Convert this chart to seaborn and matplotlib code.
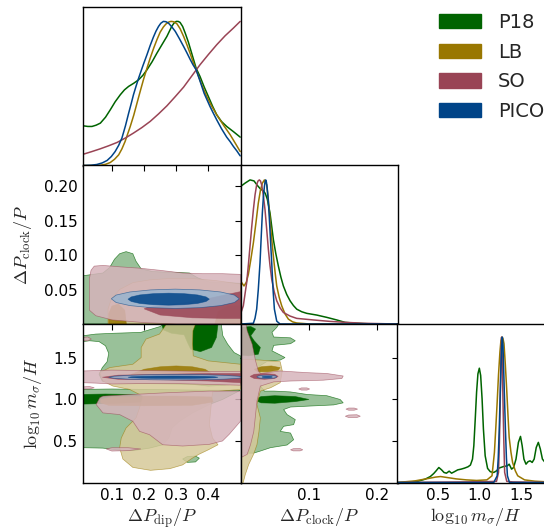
import numpy as np
import matplotlib
matplotlib.use("Agg")
import matplotlib.pyplot as plt
import seaborn as sns
from matplotlib.colors import to_rgb
from matplotlib.patches import Patch

# ---------------- data ----------------
names = ["P18", "LB", "SO", "PICO"]
colors = ["#006400", "#997700", "#994455", "#004488"]

dip_ticks = [0.1, 0.2, 0.3, 0.4]
dip_ticklabels = ["0.1", "0.2", "0.3", "0.4"]
clock_ticks = [0.05, 0.10, 0.15, 0.20]
clock_ticklabels = ["0.05", "0.10", "0.15", "0.20"]
clock_xticks = [0.1, 0.2]
clock_xticklabels = ["0.1", "0.2"]
m_ticks = [0.5, 1.0, 1.5]
m_ticklabels = ["0.5", "1.0", "1.5"]
dip_lim = (0.01, 0.5)
clock_lim = (0.0, 0.23)
m_lim = (0.01, 1.9)

# 1D marginals: Delta P_dip / P
p18_dip_x = [0.012, 0.025, 0.038, 0.051, 0.064, 0.08, 0.095, 0.11, 0.126, 0.139, 0.152, 0.168, 0.183, 0.196, 0.209, 0.225, 0.240, 0.256, 0.271, 0.286, 0.293, 0.300, 0.306, 0.312, 0.320, 0.328, 0.338, 0.348, 0.362, 0.374, 0.387, 0.400, 0.413, 0.426, 0.441, 0.457, 0.478, 0.499]
p18_dip_y = [0.275, 0.271, 0.271, 0.280, 0.294, 0.335, 0.387, 0.442, 0.491, 0.525, 0.549, 0.571, 0.595, 0.625, 0.664, 0.720, 0.780, 0.840, 0.896, 0.965, 0.988, 1.0, 1.0, 0.993, 0.965, 0.919, 0.855, 0.780, 0.675, 0.618, 0.545, 0.479, 0.412, 0.352, 0.305, 0.271, 0.235, 0.197]
lb_dip_x = [0.012, 0.04, 0.064, 0.08, 0.095, 0.108, 0.121, 0.131, 0.141, 0.157, 0.168, 0.178, 0.188, 0.198, 0.209, 0.219, 0.230, 0.240, 0.250, 0.260, 0.268, 0.276, 0.281, 0.286, 0.293, 0.302, 0.312, 0.323, 0.333, 0.343, 0.352, 0.362, 0.378, 0.395, 0.41, 0.426, 0.447, 0.468, 0.485, 0.499]
lb_dip_y = [0.0, 0.0, 0.002, 0.008, 0.021, 0.043, 0.074, 0.115, 0.167, 0.271, 0.35, 0.433, 0.515, 0.595, 0.675, 0.745, 0.815, 0.873, 0.925, 0.961, 0.982, 0.995, 0.999, 1.0, 0.997, 0.984, 0.950, 0.896, 0.840, 0.780, 0.722, 0.664, 0.568, 0.479, 0.413, 0.352, 0.280, 0.213, 0.150, 0.097]
so_dip_x = [0.012, 0.038, 0.064, 0.09, 0.116, 0.142, 0.167, 0.193, 0.219, 0.245, 0.271, 0.297, 0.323, 0.348, 0.374, 0.400, 0.426, 0.452, 0.478, 0.499]
so_dip_y = [0.079, 0.097, 0.116, 0.137, 0.160, 0.191, 0.225, 0.263, 0.306, 0.358, 0.414, 0.478, 0.544, 0.620, 0.699, 0.770, 0.838, 0.900, 0.954, 1.0]
pico_dip_x = [0.012, 0.035, 0.053, 0.07, 0.085, 0.098, 0.110, 0.121, 0.131, 0.142, 0.152, 0.160, 0.167, 0.175, 0.183, 0.196, 0.209, 0.219, 0.229, 0.237, 0.245, 0.252, 0.260, 0.268, 0.276, 0.286, 0.297, 0.310, 0.323, 0.333, 0.343, 0.352, 0.362, 0.375, 0.387, 0.396, 0.405, 0.415, 0.426, 0.441, 0.457, 0.468, 0.478, 0.489, 0.499]
pico_dip_y = [0.0, 0.002, 0.007, 0.018, 0.035, 0.062, 0.097, 0.140, 0.190, 0.275, 0.363, 0.430, 0.491, 0.550, 0.606, 0.690, 0.769, 0.833, 0.891, 0.932, 0.965, 0.987, 1.0, 0.998, 0.988, 0.963, 0.931, 0.880, 0.826, 0.783, 0.738, 0.700, 0.664, 0.580, 0.5, 0.455, 0.410, 0.365, 0.317, 0.255, 0.197, 0.165, 0.132, 0.100, 0.067]

# 1D marginals: Delta P_clock / P
p18_clock_x = [0.0, 0.0065, 0.0139, 0.0197, 0.0246, 0.0295, 0.0334, 0.0363, 0.0392, 0.0431, 0.048, 0.0515, 0.0553, 0.059, 0.0626, 0.0675, 0.0724, 0.0773, 0.0821, 0.0894, 0.0967, 0.1114, 0.126, 0.1406, 0.1528, 0.1699, 0.1942, 0.23]
p18_clock_y = [0.954, 0.977, 1.0, 0.993, 0.962, 0.935, 0.925, 0.905, 0.865, 0.770, 0.586, 0.490, 0.402, 0.325, 0.264, 0.205, 0.161, 0.128, 0.103, 0.085, 0.074, 0.062, 0.046, 0.028, 0.011, 0.005, 0.0, 0.0]
lb_clock_x = [0.0, 0.0051, 0.0085, 0.0115, 0.015, 0.0188, 0.0225, 0.026, 0.029, 0.0319, 0.0349, 0.0383, 0.0407, 0.0431, 0.0456, 0.048, 0.0505, 0.0529, 0.0565, 0.0602, 0.065, 0.0699, 0.0760, 0.0821, 0.1016, 0.23]
lb_clock_y = [0.299, 0.264, 0.290, 0.345, 0.445, 0.563, 0.700, 0.839, 0.925, 0.977, 1.0, 0.966, 0.860, 0.724, 0.590, 0.471, 0.360, 0.264, 0.185, 0.126, 0.070, 0.034, 0.015, 0.007, 0.0, 0.0]
so_clock_x = [0.0, 0.0041, 0.009, 0.0115, 0.0139, 0.0163, 0.0188, 0.0212, 0.0236, 0.0255, 0.0275, 0.0292, 0.0309, 0.0333, 0.0358, 0.0383, 0.0407, 0.0431, 0.0456, 0.0492, 0.0529, 0.0578, 0.0626, 0.0724, 0.0821, 0.1065, 0.1309, 0.1552, 0.1796, 0.2284]
so_clock_y = [0.069, 0.126, 0.287, 0.410, 0.540, 0.670, 0.793, 0.895, 0.966, 0.992, 1.0, 0.992, 0.966, 0.895, 0.793, 0.655, 0.517, 0.405, 0.310, 0.225, 0.161, 0.112, 0.080, 0.055, 0.039, 0.028, 0.018, 0.011, 0.005, 0.0]
pico_clock_x = [0.0, 0.0188, 0.0212, 0.0236, 0.026, 0.0285, 0.0302, 0.0319, 0.0334, 0.0349, 0.0358, 0.0368, 0.0378, 0.0387, 0.0402, 0.0417, 0.0436, 0.0456, 0.0475, 0.0495, 0.0529, 0.0577, 0.23]
pico_clock_y = [0.0, 0.005, 0.040, 0.103, 0.240, 0.425, 0.600, 0.770, 0.880, 0.954, 0.985, 1.0, 0.985, 0.954, 0.880, 0.770, 0.600, 0.425, 0.240, 0.103, 0.02, 0.0, 0.0]

# 1D marginals: log10 m_sigma / H
p18_m_x = [0.01, 0.142, 0.265, 0.348, 0.410, 0.451, 0.479, 0.512, 0.545, 0.574, 0.603, 0.636, 0.665, 0.698, 0.739, 0.780, 0.821, 0.862, 0.891, 0.916, 0.932, 0.949, 0.965, 0.981, 0.998, 1.014, 1.031, 1.047, 1.068, 1.097, 1.130, 1.171, 1.204, 1.233, 1.29, 1.335, 1.356, 1.385, 1.409, 1.438, 1.467, 1.492, 1.512, 1.533, 1.558, 1.582, 1.607, 1.632, 1.656, 1.681, 1.706, 1.730, 1.755, 1.780, 1.796, 1.85, 1.9]
p18_m_y = [0.0, 0.002, 0.009, 0.023, 0.041, 0.062, 0.080, 0.103, 0.087, 0.069, 0.064, 0.078, 0.064, 0.074, 0.087, 0.092, 0.099, 0.108, 0.120, 0.161, 0.253, 0.437, 0.621, 0.747, 0.786, 0.736, 0.575, 0.368, 0.184, 0.097, 0.074, 0.069, 0.080, 0.099, 0.110, 0.115, 0.126, 0.092, 0.103, 0.161, 0.276, 0.317, 0.253, 0.161, 0.126, 0.143, 0.149, 0.138, 0.161, 0.241, 0.276, 0.230, 0.161, 0.143, 0.149, 0.140, 0.130]
lb_m_x = [0.01, 0.224, 0.389, 0.471, 0.533, 0.615, 0.718, 0.842, 0.965, 1.089, 1.150, 1.179, 1.196, 1.212, 1.228, 1.245, 1.257, 1.269, 1.282, 1.294, 1.310, 1.327, 1.342, 1.356, 1.377, 1.397, 1.43, 1.459, 1.541, 1.665, 1.796, 1.9]
lb_m_y = [0.0, 0.011, 0.028, 0.037, 0.041, 0.034, 0.025, 0.018, 0.014, 0.018, 0.046, 0.207, 0.380, 0.552, 0.740, 0.897, 0.975, 1.0, 0.990, 0.954, 0.810, 0.632, 0.460, 0.310, 0.210, 0.138, 0.080, 0.046, 0.018, 0.009, 0.005, 0.004]
so_m_x = [0.01, 0.8, 1.1, 1.204, 1.228, 1.239, 1.249, 1.257, 1.265, 1.273, 1.282, 1.292, 1.302, 1.327, 1.4, 1.9]
so_m_y = [0.0, 0.004, 0.006, 0.008, 0.069, 0.280, 0.552, 0.860, 1.0, 0.860, 0.552, 0.280, 0.069, 0.008, 0.004, 0.0]
pico_m_x = [0.01, 1.171, 1.212, 1.225, 1.237, 1.247, 1.257, 1.266, 1.274, 1.282, 1.290, 1.300, 1.311, 1.323, 1.335, 1.360, 1.9]
pico_m_y = [0.0, 0.0, 0.046, 0.170, 0.368, 0.580, 0.782, 0.940, 1.0, 0.940, 0.782, 0.580, 0.368, 0.170, 0.046, 0.0, 0.0]

# 2D contours (95% outer / 68% inner), vertices
# panel: dip (x) vs clock (y)
p18_dc_outer_x = [0.01, 0.041, 0.072, 0.093, 0.108, 0.124, 0.144, 0.165, 0.175, 0.191, 0.227, 0.289, 0.341, 0.367, 0.403, 0.5, 0.5, 0.01]
p18_dc_outer_y = [0.070, 0.072, 0.074, 0.082, 0.094, 0.102, 0.105, 0.102, 0.091, 0.080, 0.076, 0.075, 0.074, 0.067, 0.061, 0.059, 0.0, 0.0]
p18_dc_inner_x = [0.105, 0.112, 0.125, 0.14, 0.145]
p18_dc_inner_y = [0.0, 0.004, 0.006, 0.004, 0.0]
lb_dc_outer_x = [0.088, 0.088, 0.098, 0.124, 0.165, 0.217, 0.279, 0.351, 0.424, 0.5, 0.5]
lb_dc_outer_y = [0.0, 0.022, 0.036, 0.050, 0.060, 0.064, 0.066, 0.066, 0.063, 0.058, 0.0]
lb_dc_inner1_x = [0.09, 0.09, 0.10, 0.12, 0.14, 0.145]
lb_dc_inner1_y = [0.0, 0.015, 0.026, 0.029, 0.02, 0.0]
lb_dc_inner2_x = [0.42, 0.43, 0.46, 0.5, 0.5]
lb_dc_inner2_y = [0.0, 0.018, 0.026, 0.027, 0.0]
so_dc_outer_x = [0.03, 0.035, 0.045, 0.072, 0.124, 0.186, 0.248, 0.32, 0.382, 0.444, 0.5, 0.5, 0.4, 0.3, 0.2, 0.1, 0.05, 0.03]
so_dc_outer_y = [0.066, 0.078, 0.084, 0.085, 0.083, 0.081, 0.078, 0.074, 0.073, 0.073, 0.072, 0.0, 0.0, 0.0, 0.002, 0.006, 0.012, 0.02]
so_dc_inner_x = [0.20, 0.25, 0.35, 0.45, 0.5, 0.5, 0.46, 0.40, 0.33, 0.26, 0.21]
so_dc_inner_y = [0.022, 0.013, 0.009, 0.008, 0.008, 0.047, 0.043, 0.037, 0.031, 0.027, 0.024]
pico_dc_outer_x = [0.496, 0.481, 0.438, 0.373, 0.297, 0.221, 0.156, 0.113, 0.098, 0.113, 0.156, 0.221, 0.297, 0.373, 0.438, 0.481]
pico_dc_outer_y = [0.0366, 0.0420, 0.0465, 0.0495, 0.0506, 0.0495, 0.0465, 0.0420, 0.0366, 0.0312, 0.0267, 0.0237, 0.0226, 0.0237, 0.0267, 0.0312]
pico_dc_inner_x = [0.403, 0.393, 0.366, 0.325, 0.2765, 0.228, 0.187, 0.160, 0.150, 0.160, 0.187, 0.228, 0.2765, 0.325, 0.366, 0.393]
pico_dc_inner_y = [0.036, 0.0393, 0.0422, 0.044, 0.0447, 0.044, 0.0422, 0.0393, 0.036, 0.0327, 0.0298, 0.028, 0.0273, 0.028, 0.0298, 0.0327]

# panel: dip (x) vs log10 m (y)
p18_dm_outer1_x = [0.01, 0.05, 0.11, 0.19, 0.25, 0.26, 0.44, 0.445, 0.46, 0.48, 0.5, 0.5, 0.45, 0.40, 0.35, 0.2, 0.1, 0.07, 0.06, 0.07, 0.085, 0.09, 0.08, 0.06, 0.03, 0.01]
p18_dm_outer1_y = [1.76, 1.78, 1.79, 1.80, 1.87, 1.9, 1.9, 1.76, 1.66, 1.56, 1.52, 1.19, 1.17, 1.16, 1.18, 1.19, 1.2, 1.22, 1.30, 1.38, 1.45, 1.55, 1.64, 1.69, 1.70, 1.69]
p18_dm_outer2_x = [0.01, 0.1, 0.2, 0.3, 0.4, 0.5, 0.444, 0.403, 0.351, 0.31, 0.287, 0.277, 0.258, 0.217, 0.165, 0.113, 0.072, 0.01]
p18_dm_outer2_y = [1.12, 1.125, 1.12, 1.115, 1.11, 1.11, 1.0, 0.94, 0.84, 0.74, 0.66, 0.54, 0.46, 0.42, 0.39, 0.40, 0.42, 0.425]
p18_dm_outer3_x = [0.32, 0.335, 0.36, 0.372, 0.36, 0.335]
p18_dm_outer3_y = [0.29, 0.32, 0.325, 0.30, 0.255, 0.25]
p18_dm_inner1_x = [0.01, 0.08, 0.15, 0.19, 0.20, 0.19, 0.12, 0.06, 0.01]
p18_dm_inner1_y = [1.06, 1.065, 1.06, 1.05, 1.02, 0.97, 0.955, 0.95, 0.945]
p18_dm_inner2_x = [0.255, 0.26, 0.285, 0.325, 0.335, 0.345, 0.375, 0.41, 0.425, 0.43]
p18_dm_inner2_y = [1.9, 1.83, 1.79, 1.77, 1.68, 1.60, 1.57, 1.62, 1.74, 1.9]
lb_dm_outer_x = [0.27, 0.36, 0.352, 0.351, 0.353, 0.40, 0.5, 0.5, 0.44, 0.413, 0.408, 0.403, 0.413, 0.43, 0.40, 0.37, 0.35, 0.32, 0.28, 0.22, 0.165, 0.134, 0.124, 0.129, 0.144, 0.175, 0.186, 0.196, 0.155, 0.103, 0.072, 0.062, 0.093, 0.165, 0.191, 0.191, 0.206, 0.248]
lb_dm_outer_y = [1.9, 1.9, 1.82, 1.66, 1.52, 1.46, 1.42, 1.12, 1.10, 1.09, 0.90, 0.70, 0.54, 0.46, 0.40, 0.345, 0.30, 0.22, 0.175, 0.155, 0.19, 0.29, 0.425, 0.54, 0.66, 0.78, 0.90, 1.04, 1.12, 1.16, 1.22, 1.32, 1.38, 1.42, 1.50, 1.62, 1.72, 1.78]
lb_dm_inner1_x = [0.16, 0.2, 0.25, 0.3, 0.35, 0.39, 0.41, 0.39, 0.3, 0.2, 0.165]
lb_dm_inner1_y = [1.30, 1.36, 1.39, 1.40, 1.39, 1.36, 1.31, 1.26, 1.24, 1.245, 1.27]
lb_dm_inner2_x = [0.065, 0.1, 0.2, 0.3, 0.41, 0.415, 0.35, 0.2, 0.09, 0.065]
lb_dm_inner2_y = [1.0, 1.03, 1.04, 1.04, 1.03, 0.97, 0.93, 0.925, 0.93, 0.96]
so_dm_outer1_x = [0.01, 0.05, 0.1, 0.2, 0.3, 0.4, 0.5, 0.5, 0.4, 0.3, 0.2, 0.1, 0.05, 0.01]
so_dm_outer1_y = [1.34, 1.345, 1.35, 1.345, 1.34, 1.335, 1.335, 1.17, 1.18, 1.19, 1.19, 1.185, 1.195, 1.2]
so_dm_outer2_x = [0.072, 0.165, 0.269, 0.403, 0.5, 0.5, 0.465, 0.444, 0.403, 0.32, 0.258, 0.217, 0.186, 0.165, 0.124, 0.072, 0.051, 0.062]
so_dm_outer2_y = [1.04, 1.06, 1.08, 1.10, 1.10, 0.74, 0.585, 0.505, 0.465, 0.445, 0.46, 0.58, 0.62, 0.74, 0.82, 0.84, 0.94, 1.02]
so_dm_outer3_x = [0.01, 0.025, 0.036, 0.025, 0.01]
so_dm_outer3_y = [1.74, 1.745, 1.72, 1.70, 1.70]
so_dm_outer4_x = [0.082, 0.1, 0.15, 0.19, 0.15, 0.1]
so_dm_outer4_y = [0.41, 0.425, 0.425, 0.41, 0.39, 0.385]
so_dm_outer5_x = [0.01, 0.03, 0.045, 0.03, 0.01]
so_dm_outer5_y = [1.15, 1.155, 1.14, 1.125, 1.125]
so_dm_inner_x = [0.07, 0.12, 0.25, 0.4, 0.5, 0.5, 0.4, 0.25, 0.12]
so_dm_inner_y = [1.265, 1.29, 1.30, 1.31, 1.31, 1.20, 1.22, 1.235, 1.24]
pico_dm_outer_x = [0.51, 0.494, 0.448, 0.38, 0.30, 0.22, 0.152, 0.106, 0.09, 0.106, 0.152, 0.22, 0.30, 0.38, 0.448, 0.494]
pico_dm_outer_y = [1.265, 1.277, 1.288, 1.295, 1.297, 1.295, 1.288, 1.277, 1.265, 1.253, 1.242, 1.235, 1.233, 1.235, 1.242, 1.253]
pico_dm_inner_x = [0.43, 0.419, 0.389, 0.344, 0.29, 0.236, 0.191, 0.161, 0.15, 0.161, 0.191, 0.236, 0.29, 0.344, 0.389, 0.419]
pico_dm_inner_y = [1.265, 1.271, 1.276, 1.279, 1.28, 1.279, 1.276, 1.271, 1.265, 1.259, 1.254, 1.251, 1.25, 1.251, 1.254, 1.259]

# panel: clock (x) vs log10 m (y)
p18_cm_outer_x = [0, 0.056, 0.053, 0.046, 0.0485, 0.073, 0.08, 0.073, 0.0485, 0.046, 0.058, 0.065, 0.058, 0.039, 0.028, 0.03, 0.03, 0.035, 0.0485, 0.073, 0.097, 0.126, 0.1455, 0.15, 0.136, 0.097, 0.073, 0.063, 0.068, 0.08, 0.0776, 0.063, 0.058, 0.073, 0.0776, 0.068, 0.0437, 0.029, 0.019, 0.008, 0]
p18_cm_outer_y = [1.9, 1.9, 1.86, 1.80, 1.745, 1.735, 1.70, 1.665, 1.645, 1.58, 1.53, 1.50, 1.47, 1.455, 1.40, 1.30, 1.15, 1.10, 1.10, 1.09, 1.06, 1.045, 1.0, 0.96, 0.935, 0.92, 0.91, 0.88, 0.82, 0.76, 0.70, 0.68, 0.62, 0.60, 0.52, 0.457, 0.425, 0.385, 0.36, 0.36, 0.37]
p18_cm_inner1_x = [0, 0.015, 0.022, 0.015, 0.02, 0.029, 0.026, 0.012, 0]
p18_cm_inner1_y = [1.86, 1.87, 1.84, 1.76, 1.70, 1.62, 1.54, 1.52, 1.53]
p18_cm_inner2_x = [0.02, 0.03, 0.05, 0.08, 0.1, 0.08, 0.05, 0.03]
p18_cm_inner2_y = [0.995, 1.035, 1.045, 1.035, 1.0, 0.975, 0.955, 0.96]
lb_cm_outer_x = [0, 0.029, 0.058, 0.061, 0.058, 0.044, 0.029, 0.024, 0.029, 0.027, 0.024, 0.019, 0.012, 0.007, 0.004, 0]
lb_cm_outer_y = [1.48, 1.47, 1.45, 1.34, 1.20, 1.14, 1.10, 0.94, 0.78, 0.62, 0.46, 0.345, 0.225, 0.105, 0.01, 0.01]
lb_cm_inner_x = [0.02, 0.03, 0.045, 0.058, 0.055, 0.04, 0.025]
lb_cm_inner_y = [1.36, 1.39, 1.40, 1.38, 1.35, 1.33, 1.33]
so_cm_outer1_x = [0, 0.008, 0.0097, 0.017, 0.022, 0.026, 0.029, 0.058, 0.097, 0.126, 0.15, 0.148, 0.121, 0.073, 0.0485, 0.029, 0.024, 0.022, 0.0194, 0.0146, 0.0097, 0]
so_cm_outer1_y = [1.9, 1.9, 1.82, 1.66, 1.46, 1.34, 1.31, 1.34, 1.32, 1.31, 1.28, 1.25, 1.23, 1.22, 1.21, 1.16, 0.98, 0.82, 0.62, 0.46, 0.345, 0.305]
so_cm_outer2_x = [0.085, 0.089, 0.097, 0.101, 0.097, 0.089]
so_cm_outer2_y = [1.125, 1.138, 1.138, 1.125, 1.112, 1.112]
so_cm_outer3_x = [0.154, 0.158, 0.166, 0.171, 0.166, 0.158]
so_cm_outer3_y = [0.885, 0.898, 0.898, 0.885, 0.872, 0.872]
so_cm_outer4_x = [0.153, 0.158, 0.17, 0.175, 0.17, 0.158]
so_cm_outer4_y = [0.80, 0.815, 0.818, 0.80, 0.785, 0.785]
so_cm_outer5_x = [0.073, 0.077, 0.087, 0.091, 0.087, 0.077]
so_cm_outer5_y = [0.40, 0.413, 0.415, 0.40, 0.387, 0.387]
so_cm_inner_x = [0.014, 0.02, 0.035, 0.05, 0.055, 0.05, 0.035, 0.02]
so_cm_inner_y = [1.275, 1.30, 1.31, 1.30, 1.275, 1.25, 1.24, 1.25]
pico_cm_outer_x = [0.053, 0.0519, 0.0488, 0.044, 0.0385, 0.033, 0.0282, 0.0251, 0.024, 0.0251, 0.0282, 0.033, 0.0385, 0.044, 0.0488, 0.0519]
pico_cm_outer_y = [1.27, 1.2777, 1.2841, 1.2885, 1.29, 1.2885, 1.2841, 1.2777, 1.27, 1.2623, 1.2559, 1.2515, 1.25, 1.2515, 1.2559, 1.2623]
pico_cm_inner_x = [0.0465, 0.0459, 0.0443, 0.0419, 0.039, 0.0361, 0.0337, 0.0321, 0.0315, 0.0321, 0.0337, 0.0361, 0.039, 0.0419, 0.0443, 0.0459]
pico_cm_inner_y = [1.268, 1.2714, 1.2744, 1.2763, 1.277, 1.2763, 1.2744, 1.2714, 1.268, 1.2646, 1.2616, 1.2597, 1.259, 1.2597, 1.2616, 1.2646]

# ---------------- style ----------------
sns.set_style("white")
plt.rcParams["font.family"] = ["DejaVu Sans"]
plt.rcParams["mathtext.fontset"] = "cm"

W, H = 544, 531
fig = plt.figure(figsize=(W / 100, H / 100), dpi=100)

col_left = [83, 240.5, 397]
row_top = [7, 165.5, 324]
size_w, size_h = 157.5, 158.5


def add_ax(c, r):
    return fig.add_axes([col_left[c] / W, 1 - (row_top[r] + size_h) / H, size_w / W, size_h / H])


def style(ax):
    for s in ax.spines.values():
        s.set_color("black")
        s.set_linewidth(1.0)
    ax.tick_params(direction="in", length=4, width=0.8, labelsize=11, pad=4, colors="black")


def fill(ax, xs, ys, color, inner, alpha):
    base = np.array(to_rgb(color))
    face = base if inner else base * 0.4 + 0.6
    ax.fill(xs, ys, facecolor=(*face, alpha), edgecolor=(*base, alpha * 0.7), lw=0.5)


def line1d(ax, xs, ys, color):
    sns.lineplot(x=xs, y=ys, ax=ax, color=color, lw=1.1, legend=False, estimator=None, sort=False)


c_p18, c_lb, c_so, c_pico = colors
a1, a2 = 1.0, 0.85

# --- top-left: 1D dip
ax = add_ax(0, 0)
style(ax)
line1d(ax, p18_dip_x, p18_dip_y, c_p18)
line1d(ax, lb_dip_x, lb_dip_y, c_lb)
line1d(ax, so_dip_x, so_dip_y, c_so)
line1d(ax, pico_dip_x, pico_dip_y, c_pico)
ax.set_xlim(*dip_lim)
ax.set_ylim(0, 1.1)
ax.set_yticks([])
ax.set_xticks(dip_ticks)
ax.tick_params(labelbottom=False)

# --- middle-left: dip vs clock
ax = add_ax(0, 1)
style(ax)
fill(ax, p18_dc_outer_x, p18_dc_outer_y, c_p18, False, a1)
fill(ax, p18_dc_inner_x, p18_dc_inner_y, c_p18, True, a1)
fill(ax, lb_dc_outer_x, lb_dc_outer_y, c_lb, False, a2)
fill(ax, lb_dc_inner1_x, lb_dc_inner1_y, c_lb, True, a2)
fill(ax, lb_dc_inner2_x, lb_dc_inner2_y, c_lb, True, a2)
fill(ax, so_dc_outer_x, so_dc_outer_y, c_so, False, a2)
fill(ax, so_dc_inner_x, so_dc_inner_y, c_so, True, a2)
fill(ax, pico_dc_outer_x, pico_dc_outer_y, c_pico, False, a2)
fill(ax, pico_dc_inner_x, pico_dc_inner_y, c_pico, True, a2)
ax.set_xlim(*dip_lim)
ax.set_ylim(*clock_lim)
ax.set_xticks(dip_ticks)
ax.set_yticks(clock_ticks)
ax.set_yticklabels(clock_ticklabels)
ax.tick_params(labelbottom=False, right=True, top=True)
ax.set_ylabel(r"$\Delta P_{\rm clock}/P$", fontsize=13, labelpad=7)

# --- middle-middle: 1D clock
ax = add_ax(1, 1)
style(ax)
line1d(ax, p18_clock_x, p18_clock_y, c_p18)
line1d(ax, lb_clock_x, lb_clock_y, c_lb)
line1d(ax, so_clock_x, so_clock_y, c_so)
line1d(ax, pico_clock_x, pico_clock_y, c_pico)
ax.set_xlim(*clock_lim)
ax.set_ylim(0, 1.1)
ax.set_yticks([])
ax.set_xticks(clock_xticks)
ax.tick_params(labelbottom=False)

# --- bottom-left: dip vs m
ax = add_ax(0, 2)
style(ax)
for xs, ys in [(p18_dm_outer1_x, p18_dm_outer1_y), (p18_dm_outer2_x, p18_dm_outer2_y), (p18_dm_outer3_x, p18_dm_outer3_y)]:
    fill(ax, xs, ys, c_p18, False, a1)
for xs, ys in [(p18_dm_inner1_x, p18_dm_inner1_y), (p18_dm_inner2_x, p18_dm_inner2_y)]:
    fill(ax, xs, ys, c_p18, True, a1)
fill(ax, lb_dm_outer_x, lb_dm_outer_y, c_lb, False, a2)
fill(ax, lb_dm_inner1_x, lb_dm_inner1_y, c_lb, True, a2)
fill(ax, lb_dm_inner2_x, lb_dm_inner2_y, c_lb, True, a2)
for xs, ys in [(so_dm_outer1_x, so_dm_outer1_y), (so_dm_outer2_x, so_dm_outer2_y), (so_dm_outer3_x, so_dm_outer3_y),
               (so_dm_outer4_x, so_dm_outer4_y), (so_dm_outer5_x, so_dm_outer5_y)]:
    fill(ax, xs, ys, c_so, False, a2)
fill(ax, so_dm_inner_x, so_dm_inner_y, c_so, True, a2)
fill(ax, pico_dm_outer_x, pico_dm_outer_y, c_pico, False, a2)
fill(ax, pico_dm_inner_x, pico_dm_inner_y, c_pico, True, a2)
ax.set_xlim(*dip_lim)
ax.set_ylim(*m_lim)
ax.set_xticks(dip_ticks)
ax.set_xticklabels(dip_ticklabels)
ax.set_yticks(m_ticks)
ax.set_yticklabels(m_ticklabels)
ax.tick_params(right=True, top=True)
ax.set_xlabel(r"$\Delta P_{\rm dip}/P$", fontsize=13, labelpad=2)
ax.set_ylabel(r"$\log_{10} m_\sigma/H$", fontsize=13, labelpad=7)

# --- bottom-middle: clock vs m
ax = add_ax(1, 2)
style(ax)
fill(ax, p18_cm_outer_x, p18_cm_outer_y, c_p18, False, a1)
fill(ax, p18_cm_inner1_x, p18_cm_inner1_y, c_p18, True, a1)
fill(ax, p18_cm_inner2_x, p18_cm_inner2_y, c_p18, True, a1)
fill(ax, lb_cm_outer_x, lb_cm_outer_y, c_lb, False, a2)
fill(ax, lb_cm_inner_x, lb_cm_inner_y, c_lb, True, a2)
for xs, ys in [(so_cm_outer1_x, so_cm_outer1_y), (so_cm_outer2_x, so_cm_outer2_y), (so_cm_outer3_x, so_cm_outer3_y),
               (so_cm_outer4_x, so_cm_outer4_y), (so_cm_outer5_x, so_cm_outer5_y)]:
    fill(ax, xs, ys, c_so, False, a2)
fill(ax, so_cm_inner_x, so_cm_inner_y, c_so, True, a2)
fill(ax, pico_cm_outer_x, pico_cm_outer_y, c_pico, False, a2)
fill(ax, pico_cm_inner_x, pico_cm_inner_y, c_pico, True, a2)
ax.set_xlim(*clock_lim)
ax.set_ylim(*m_lim)
ax.set_xticks(clock_xticks)
ax.set_xticklabels(clock_xticklabels)
ax.set_yticks(m_ticks)
ax.tick_params(labelleft=False, right=True, top=True)
ax.set_xlabel(r"$\Delta P_{\rm clock}/P$", fontsize=13, labelpad=2)

# --- bottom-right: 1D m
ax = add_ax(2, 2)
style(ax)
line1d(ax, p18_m_x, p18_m_y, c_p18)
line1d(ax, lb_m_x, lb_m_y, c_lb)
line1d(ax, so_m_x, so_m_y, c_so)
line1d(ax, pico_m_x, pico_m_y, c_pico)
ax.set_xlim(*m_lim)
ax.set_ylim(0, 1.09)
ax.set_yticks([])
ax.set_xticks(m_ticks)
ax.set_xticklabels(m_ticklabels)
ax.set_xlabel(r"$\log_{10} m_\sigma/H$", fontsize=13, labelpad=2)

# --- legend
handles = [Patch(facecolor=c, edgecolor=c) for c in colors]
fig.legend(handles, names, loc="upper left", bbox_to_anchor=(438.7 / W, 1 - 13 / H),
           frameon=False, fontsize=14, handlelength=2.15, handleheight=0.75,
           handletextpad=0.9, labelspacing=0.55, borderpad=0, borderaxespad=0)

fig.savefig("out.png", dpi=100)
